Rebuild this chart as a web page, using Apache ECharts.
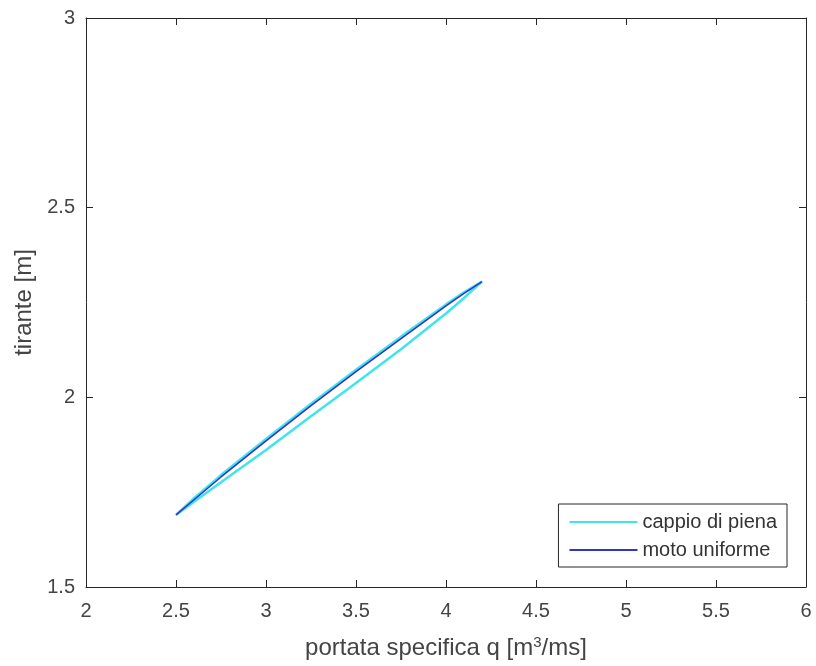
<!DOCTYPE html>
<html>
<head>
<meta charset="utf-8">
<script src="https://cdn.jsdelivr.net/npm/echarts@6/dist/echarts.min.js"></script>
<style>
  html, body { margin: 0; padding: 0; background: #fff; }
  #chart { width: 816px; height: 666px; }
</style>
</head>
<body>
<div id="chart"></div>
<script>
// cappio di piena: ramo crescente (sopra) poi ramo decrescente (sotto)
const loopQ = [2.5, 2.6, 2.75, 3.0, 3.25, 3.5, 3.75, 4.0, 4.1, 4.2,
               4.1, 4.0, 3.75, 3.5, 3.25, 3.0, 2.75, 2.6, 2.5]
const loopH = [1.690, 1.734, 1.795, 1.890, 1.983, 2.073, 2.160, 2.245, 2.277, 2.305,
               2.262, 2.221, 2.127, 2.038, 1.950, 1.861, 1.776, 1.725, 1.690]

// moto uniforme
const uniQ = [2.5, 2.6, 2.75, 3.0, 3.25, 3.5, 3.75, 4.0, 4.1, 4.2]
const uniH = [1.690, 1.730, 1.790, 1.885, 1.978, 2.068, 2.155, 2.241, 2.274, 2.305]

const seriesNames = ['cappio di piena', 'moto uniforme']

const chart = echarts.init(document.getElementById('chart'))

const axisColor = '#262626'
const labelColor = '#444'
const font = 'Liberation Sans, Arial, sans-serif'
const cyan = '#3fe4ec'
const blue = '#3434c4'

const zip = (a, b) => a.map((v, i) => [v, b[i]])

const option = {
  backgroundColor: '#fff',
  animation: false,
  grid: { left: 86, right: 10, top: 18, bottom: 79 },
  legend: {
    orient: 'vertical',
    right: 29,
    top: 504,
    data: seriesNames,
    icon: 'rect',
    itemWidth: 68,
    itemHeight: 2,
    itemGap: 8,
    padding: [8, 10, 7, 11],
    borderColor: axisColor,
    borderWidth: 1,
    backgroundColor: '#fff',
    textStyle: { fontSize: 20, color: '#333', fontFamily: font }
  },
  xAxis: [
    {
      type: 'value', min: 2, max: 6, interval: 0.5,
      name: '{n|portata specifica q [m}{s|3}{n|/ms]}',
      nameLocation: 'middle', nameGap: 48,
      nameTextStyle: {
        rich: {
          n: { fontSize: 24, color: labelColor, fontFamily: font },
          s: { fontSize: 15, color: labelColor, fontFamily: font, verticalAlign: 'top', padding: [0, 0, 12, 0] }
        }
      },
      axisLine: { lineStyle: { color: axisColor, width: 1 } },
      axisTick: { inside: true, length: 7, lineStyle: { color: axisColor } },
      axisLabel: { fontSize: 20, color: labelColor, fontFamily: font, margin: 14 },
      splitLine: { show: false }
    },
    {
      type: 'value', min: 2, max: 6, interval: 0.5, position: 'top',
      axisLine: { lineStyle: { color: axisColor, width: 1 } },
      axisTick: { inside: true, length: 7, lineStyle: { color: axisColor } },
      axisLabel: { show: false },
      splitLine: { show: false }
    }
  ],
  yAxis: [
    {
      type: 'value', min: 1.5, max: 3, interval: 0.5,
      name: 'tirante [m]',
      nameLocation: 'middle', nameGap: 48,
      nameTextStyle: { fontSize: 24, color: labelColor, fontFamily: font },
      axisLine: { show: true, lineStyle: { color: axisColor, width: 1 } },
      axisTick: { show: true, inside: true, length: 7, lineStyle: { color: axisColor } },
      axisLabel: { fontSize: 20, color: labelColor, fontFamily: font, margin: 11 },
      splitLine: { show: false }
    },
    {
      type: 'value', min: 1.5, max: 3, interval: 0.5, position: 'right',
      axisLine: { show: true, lineStyle: { color: axisColor, width: 1 } },
      axisTick: { show: true, inside: true, length: 7, lineStyle: { color: axisColor } },
      axisLabel: { show: false },
      splitLine: { show: false }
    }
  ],
  series: [
    {
      name: seriesNames[0],
      type: 'line',
      symbol: 'none',
      lineStyle: { color: cyan, width: 2.5 },
      itemStyle: { color: cyan },
      data: zip(loopQ, loopH)
    },
    {
      name: seriesNames[1],
      type: 'line',
      symbol: 'none',
      lineStyle: { color: blue, width: 1.6 },
      itemStyle: { color: blue },
      data: zip(uniQ, uniH)
    }
  ]
}

chart.setOption(option)
window.addEventListener('resize', () => chart.resize())
</script>
</body>
</html>
